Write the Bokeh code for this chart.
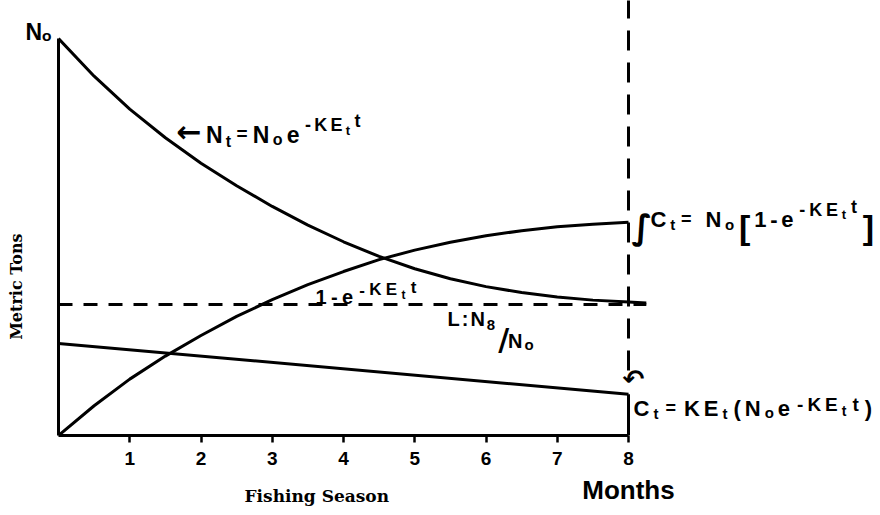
from math import pi
from bokeh.plotting import figure
from bokeh.models import Range1d, FixedTicker, Label, LinearAxis
from bokeh.embed import file_html
from bokeh.resources import INLINE

# ---------------- data ----------------
months = [0, 0.5, 1, 1.5, 2, 2.5, 3, 3.5, 4, 4.5, 5, 5.5, 6, 6.5, 7, 7.5, 8]
stock_months = months + [8.25]
stock_fraction = [1.0, 0.905, 0.822, 0.75, 0.686, 0.629, 0.577, 0.53, 0.488,
                  0.451, 0.42, 0.395, 0.375, 0.36, 0.349, 0.341, 0.336, 0.334]
cumulative_catch = [0, 0.075, 0.142, 0.2, 0.252, 0.3, 0.342, 0.38, 0.413,
                    0.443, 0.467, 0.487, 0.503, 0.516, 0.526, 0.532, 0.537]
rate_months = [0, 8]
catch_rate = [0.232, 0.104]
limit_months = [0, 8.25]
limit_level = [0.33, 0.33]
season_end = [8, 8]
season_marker = [0.164, 1.12]
tick_months = [1, 2, 3, 4, 5, 6, 7, 8]
tick_labels = ["1", "2", "3", "4", "5", "6", "7", "8"]
stock_tick, stock_label = 1.015625, "N\u2092"
unit_tick, unit_label = 0.375, "Metric Tons"
season_tick, season_label = 3.625, "Fishing Season"
end_tick, end_label = 8, "Months"

# ---------------- layout ----------------
W, H = 880, 515
LEFT, BOTTOM = 58, 80
PX_T, PX_V = 71.25, 397.0          # pixels per month, pixels per N0

p = figure(width=W, height=H, output_backend="svg", toolbar_location=None,
           x_range=Range1d(0, (W - LEFT) / PX_T),
           y_range=Range1d(0, (H - BOTTOM) / PX_V),
           min_border_left=LEFT, min_border_bottom=BOTTOM,
           min_border_top=0, min_border_right=0)
p.outline_line_color = None
p.grid.visible = False
p.background_fill_color = "white"
p.border_fill_color = "white"


def bare(ax):
    ax.major_tick_in = 0
    ax.minor_tick_out = 0
    ax.minor_tick_in = 0
    ax.major_label_text_color = "black"


# main x axis: months 1..8
xa = p.xaxis[0]
bare(xa)
xa.ticker = FixedTicker(ticks=tick_months, minor_ticks=[])
xa.major_label_overrides = {m: l for m, l in zip(tick_months, tick_labels)}
xa.bounds = (0, 8)
xa.axis_line_width = 3
xa.axis_line_color = "black"
xa.major_tick_line_width = 2.5
xa.major_tick_line_color = "black"
xa.major_tick_out = 7
xa.major_label_text_font = "Liberation Sans"
xa.major_label_text_font_size = "19px"
xa.major_label_text_font_style = "bold"
xa.major_label_standoff = 9

# second row below: "Months" under 8
xa2 = LinearAxis(ticker=FixedTicker(ticks=[end_tick], minor_ticks=[]),
                 major_label_overrides={end_tick: end_label}, bounds=(0, 8))
bare(xa2)
xa2.axis_line_color = None
xa2.major_tick_line_color = None
xa2.major_tick_out = 0
xa2.major_label_text_font = "Liberation Sans"
xa2.major_label_text_font_size = "26px"
xa2.major_label_text_font_style = "bold"
xa2.major_label_standoff = 7
p.add_layout(xa2, "below")

# third row below: "Fishing Season"
xa3 = LinearAxis(ticker=FixedTicker(ticks=[season_tick], minor_ticks=[]),
                 major_label_overrides={season_tick: season_label}, bounds=(0, 8))
bare(xa3)
xa3.axis_line_color = None
xa3.major_tick_line_color = None
xa3.major_tick_out = 0
xa3.major_label_text_font = "DejaVu Serif"
xa3.major_label_text_font_size = "17px"
xa3.major_label_text_font_style = "bold"
xa3.major_label_standoff = -22
p.add_layout(xa3, "below")

# main y axis: the vertical line only
ya = p.yaxis[0]
bare(ya)
ya.ticker = FixedTicker(ticks=[], minor_ticks=[])
ya.bounds = (0, 1)
ya.axis_line_width = 3
ya.axis_line_color = "black"
ya.major_tick_line_color = None
ya.major_tick_out = 0
ya.major_label_text_font_size = "0px"
ya.major_label_standoff = 0

# N0 at the top of the stock axis
ya3 = LinearAxis(ticker=FixedTicker(ticks=[stock_tick], minor_ticks=[]),
                 major_label_overrides={stock_tick: stock_label}, bounds=(0, 1.05))
bare(ya3)
ya3.axis_line_color = None
ya3.major_tick_line_color = None
ya3.major_tick_out = 0
ya3.major_label_text_font = "Liberation Sans"
ya3.major_label_text_font_size = "23px"
ya3.major_label_text_font_style = "bold"
ya3.major_label_standoff = 7
p.add_layout(ya3, "left")

# outer left: "Metric Tons"
ya2 = LinearAxis(ticker=FixedTicker(ticks=[unit_tick], minor_ticks=[]),
                 major_label_overrides={unit_tick: unit_label}, bounds=(0, 1))
bare(ya2)
ya2.axis_line_color = None
ya2.major_tick_line_color = None
ya2.major_tick_out = 0
ya2.major_label_orientation = "vertical"
ya2.major_label_text_font = "DejaVu Serif"
ya2.major_label_text_font_size = "16px"
ya2.major_label_text_font_style = "bold"
ya2.major_label_standoff = -3
p.add_layout(ya2, "left")

# ---------------- marks ----------------
p.line(stock_months, stock_fraction, line_width=3, color="black", line_join="round")
p.line(months, cumulative_catch, line_width=3, color="black", line_join="round")
p.line(rate_months, catch_rate, line_width=3, color="black")
p.line(limit_months, limit_level, line_width=3, color="black", line_dash="14 11")
p.line(season_end, season_marker, line_width=3, color="black", line_dash="20 12")
p.line(season_end, [0, catch_rate[-1]], line_width=3, color="black")

# ---------------- texts inside the plot ----------------
ADV = {' ': 278, '-': 333, '(': 333, ')': 333, '/': 365, ':': 333, '=': 584,
       '[': 333, ']': 333, 'C': 722, 'E': 667, 'K': 722, 'L': 611, 'N': 722,
       'e': 556, 'o': 611, 't': 333, '1': 556, '8': 556, '\u2190': 838,
       '\u222b': 450}


def page_to_data(px, py):
    return (px - LEFT) / PX_T, (H - BOTTOM - py) / PX_V


def label(x, y, text, size, dx=0, dy=0, font="Liberation Sans", style="bold",
          align="left", baseline="alphabetic", angle=0):
    p.add_layout(Label(x=x, y=y, x_offset=dx, y_offset=dy, text=text,
                       text_font=font, text_font_size=f"{size}px",
                       text_font_style=style, text_color="black",
                       text_align=align, text_baseline=baseline, angle=angle))


def equation(px, py, runs, track=2.0):
    x0, y0 = page_to_data(px, py)
    dx = 0.0
    for item in runs:
        if isinstance(item, (int, float)):
            dx += item
            continue
        text, size, dy = item[:3]
        font = item[3] if len(item) > 3 else "Liberation Sans"
        for ch in text:
            label(x0, y0, ch, size, dx=dx, dy=dy, font=font)
            dx += ADV.get(ch, 556) * size / 1000 + track


# <- N_t = N_o e^-KE_t t
equation(176, 134, [("\u2190", 30, 3, "DejaVu Sans"), 1, ("N", 23, 0), ("t", 16, -7), 2,
                    ("=", 19, 1), 2, ("N", 23, 0), ("o", 16, -5), 1,
                    ("e", 23, 0), 2, ("-KE", 18, 10), ("t", 13, 4), 1,
                    ("t", 18, 14)], track=3.3)

# integral C_t = N_o [1 - e^-KE_t t]
equation(631, 219, [("\u222b", 34, -7, "DejaVu Sans"), ("C", 22, 0), ("t", 15, -5), 2,
                    ("=", 18, 1), 10, ("N", 22, 0), ("o", 15, -5), 1,
                    ("[", 34, -7), ("1-e", 22, 0), 2, ("-KE", 18, 10),
                    ("t", 13, 5), 1, ("t", 18, 13), 2, ("]", 34, -7)], track=3.8)

# C_t = KE_t (N_o e^-KE_t t)
equation(633, 408, [("C", 22, 0), ("t", 15, -5), 3, ("=", 18, 1), 4,
                    ("KE", 22, 0), ("t", 15, -5), 2, ("(", 22, 0), ("N", 22, 0),
                    ("o", 15, -4), ("e", 22, 0), 3, ("-KE", 19, 4), ("t", 14, -2),
                    2, ("t", 19, 4), 2, (")", 22, 0)], track=4.0)

# 1 - e^-KE_t t
equation(315, 296, [("1-e", 20, 0), 2, ("-KE", 17, 7), ("t", 12, 2), 1,
                    ("t", 17, 9)], track=4.3)

# L : N_8 / N_o
equation(447, 318, [("L:N", 20, 0), ("8", 15, -6), 1, ("/", 30, -21, "DejaVu Sans"), -3,
                     ("N", 20, -22), ("o", 15, -26)], track=2.0)

# small curved arrow above the catch-rate end
x_s, y_s = page_to_data(633, 378)
label(x_s, y_s, "\u21b6", 26, font="DejaVu Sans", align="center")

open("out.html", "w").write(file_html(p, INLINE))
